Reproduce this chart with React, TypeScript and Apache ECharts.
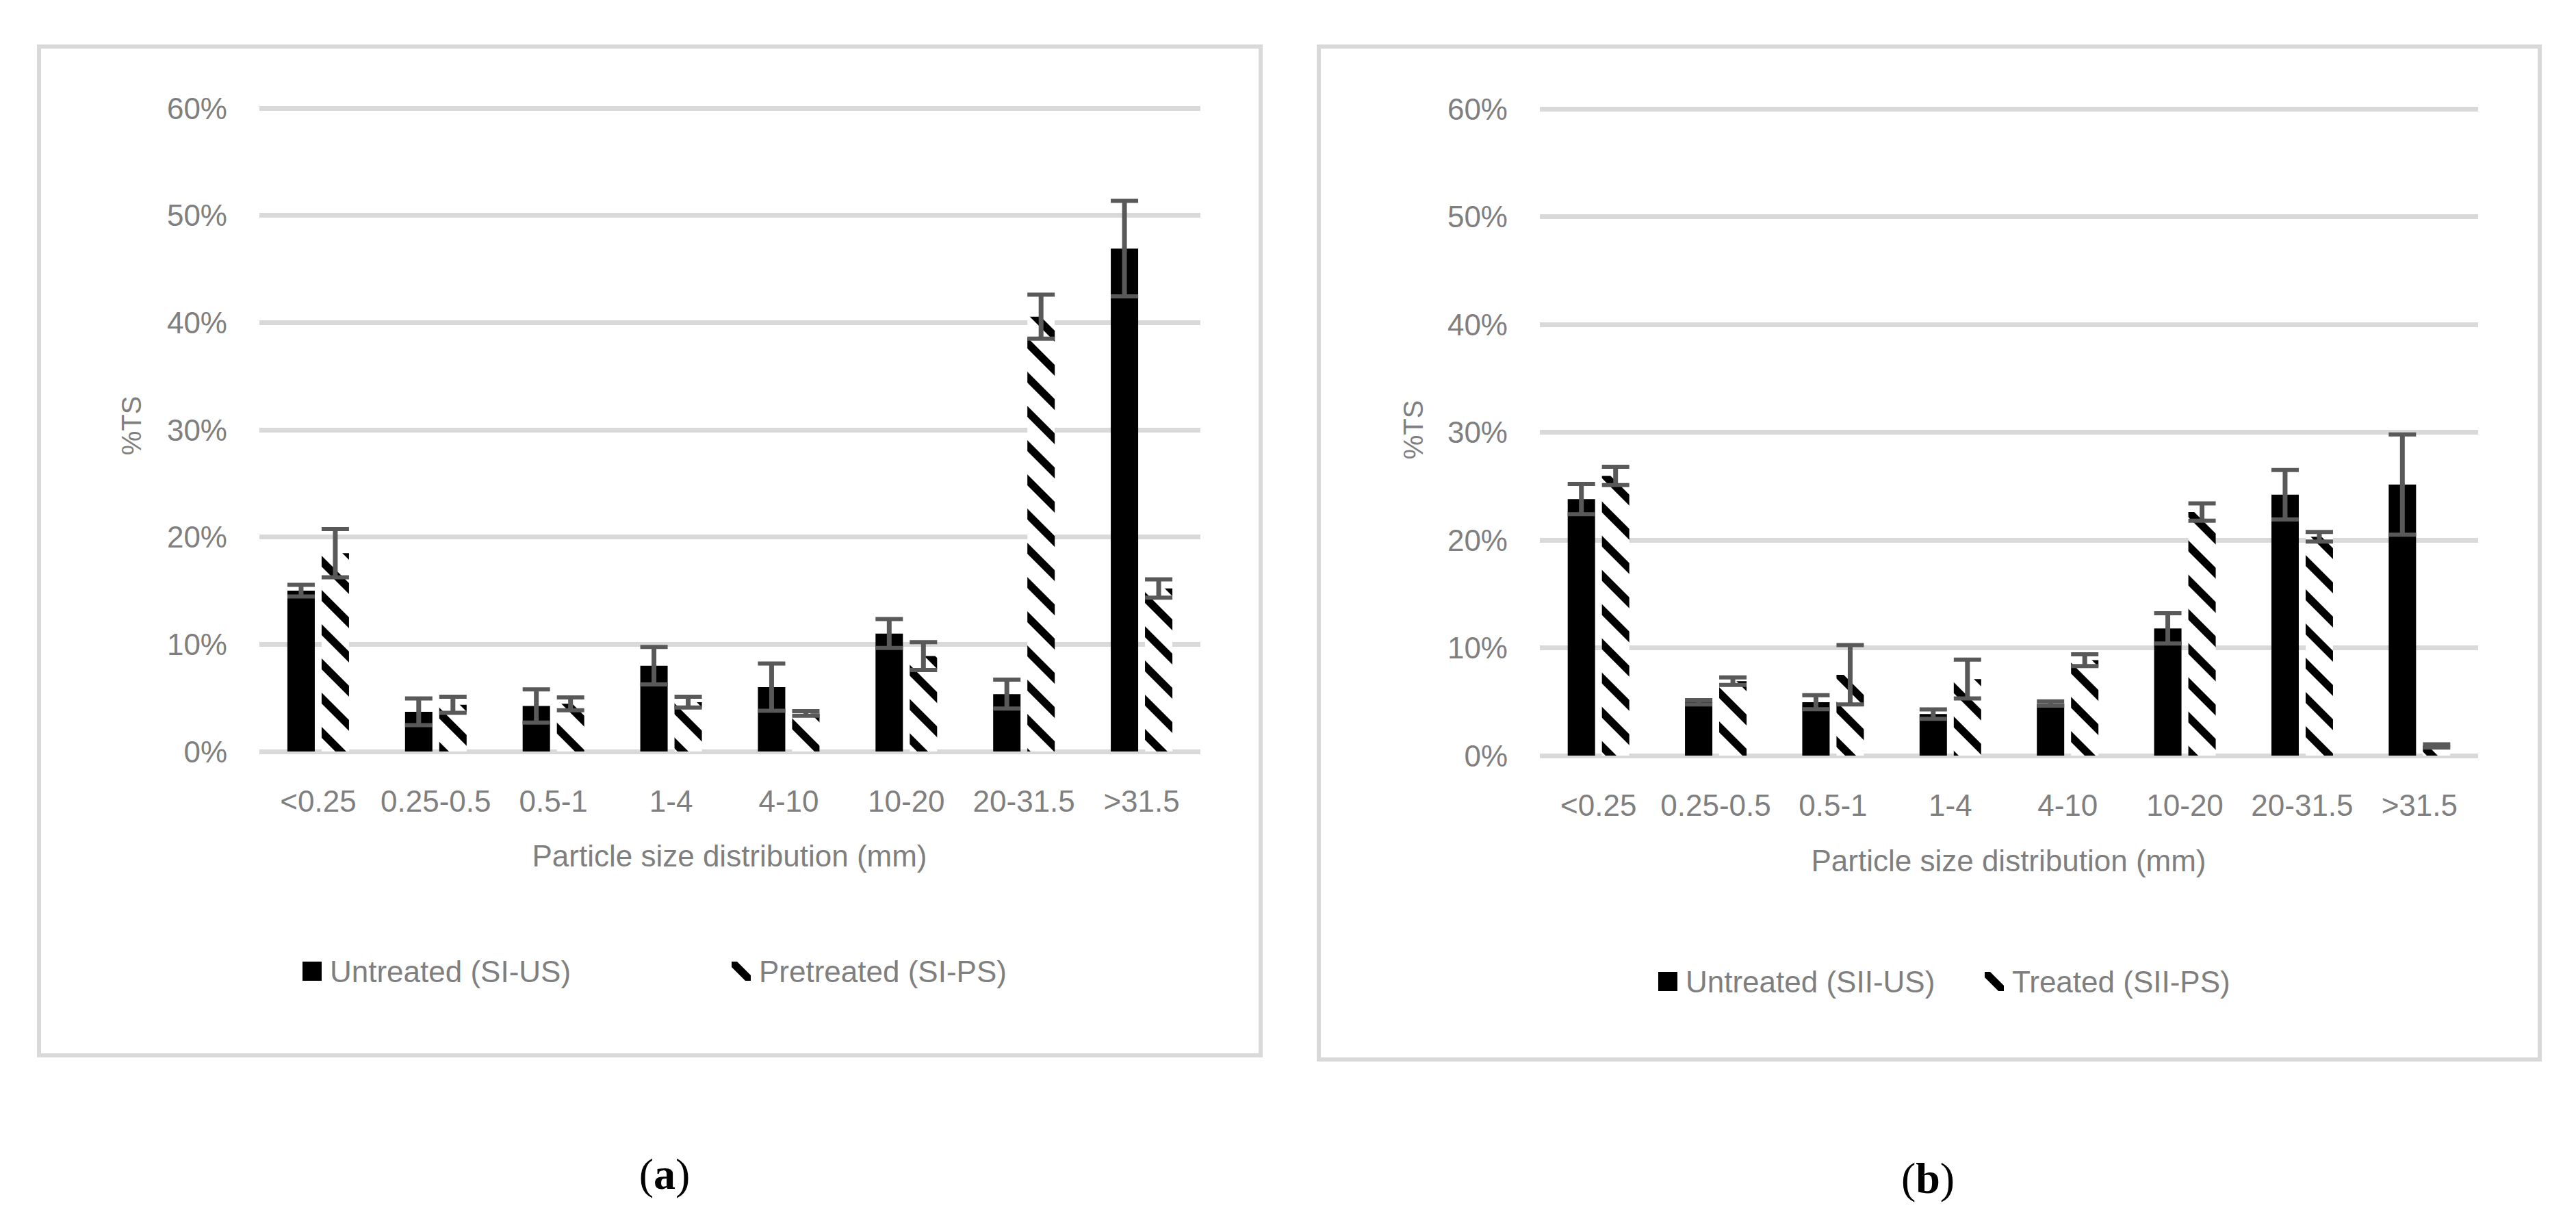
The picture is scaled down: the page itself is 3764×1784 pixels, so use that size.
import React, { useEffect, useRef } from 'react';
import * as echarts from 'echarts';

const categories = ['<0.25', '0.25-0.5', '0.5-1', '1-4', '4-10', '10-20', '20-31.5', '>31.5'];
const yMin = 0;
const yMax = 60;
const yStep = 10;

// Panel (a)
const aUntreated = [15.0, 3.7, 4.25, 8.0, 6.0, 11.0, 5.35, 46.9];
const aUntreatedErr = [0.55, 1.25, 1.55, 1.75, 2.2, 1.35, 1.35, 4.45];
const aPretreated = [18.5, 4.35, 4.45, 4.6, 3.55, 8.9, 40.55, 15.2];
const aPretreatedErr = [2.25, 0.75, 0.6, 0.5, 0.22, 1.3, 2.05, 0.85];

// Panel (b)
const bUntreated = [23.8, 4.95, 4.95, 3.85, 4.83, 11.8, 24.2, 25.15];
const bUntreatedErr = [1.4, 0.2, 0.65, 0.43, 0.2, 1.4, 2.3, 4.65];
const bTreated = [25.95, 6.9, 7.5, 7.1, 8.85, 22.6, 20.3, 0.9];
const bTreatedErr = [0.85, 0.35, 2.75, 1.8, 0.55, 0.8, 0.45, 0.15];

const legendA = ['Untreated (SI-US)', 'Pretreated (SI-PS)'];
const legendB = ['Untreated (SII-US)', 'Treated (SII-PS)'];
const xTitle = 'Particle size distribution (mm)';
const yTitle = '%TS';
const panelTags = ['a', 'b'];

const FONT = "'Liberation Sans', Arial, sans-serif";
const TEXT = '#7f7f7f';
const GRID = '#d9d9d9';
const ERR = '#595959';

function makePattern(): HTMLCanvasElement {
  const c = document.createElement('canvas');
  const s = 50;
  c.width = s;
  c.height = s;
  const ctx = c.getContext('2d')!;
  ctx.fillStyle = '#ffffff';
  ctx.fillRect(0, 0, s, s);
  ctx.fillStyle = '#000000';
  const t = 16;
  for (let k = -1; k <= 1; k++) {
    const o = k * s;
    ctx.beginPath();
    ctx.moveTo(0, o - t / 2);
    ctx.lineTo(s, o + s - t / 2);
    ctx.lineTo(s, o + s + t / 2);
    ctx.lineTo(0, o + t / 2);
    ctx.closePath();
    ctx.fill();
  }
  return c;
}

function errSeries(name: string, vals: number[], errs: number[], axis: number, offset: number) {
  return {
    name,
    type: 'custom',
    xAxisIndex: axis,
    yAxisIndex: axis,
    z: 10,
    silent: true,
    data: vals.map((v, i) => [i, v, errs[i]]),
    renderItem: (params: any, api: any) => {
      const i = api.value(0);
      const v = api.value(1);
      const e = api.value(2);
      const hi = api.coord([i, v + e]);
      const lo = api.coord([i, v - e]);
      const cx = hi[0] + offset;
      const half = 20;
      return {
        type: 'group',
        children: [
          { type: 'line', shape: { x1: cx, y1: hi[1], x2: cx, y2: lo[1] }, style: { stroke: ERR, lineWidth: 7 } },
          { type: 'line', shape: { x1: cx - half, y1: hi[1], x2: cx + half, y2: hi[1] }, style: { stroke: ERR, lineWidth: 6 } },
          { type: 'line', shape: { x1: cx - half, y1: lo[1], x2: cx + half, y2: lo[1] }, style: { stroke: ERR, lineWidth: 6 } },
        ],
      };
    },
  };
}

export default function App() {
  const ref = useRef<HTMLDivElement>(null);

  useEffect(() => {
    if (!ref.current) return;
    const chart = echarts.init(ref.current, null, { renderer: 'svg' });
    const canvas = makePattern();
    const pattern: any = { image: canvas, repeat: 'repeat', imageWidth: 50, imageHeight: 50 };

    const grids = [
      { left: 379, top: 158, width: 1375, height: 940 },
      { left: 2250, top: 159, width: 1371, height: 945 },
    ];

    const xAxis = grids.map((_, gi) => ({
      type: 'category',
      gridIndex: gi,
      data: categories,
      axisLine: { show: false },
      axisTick: { show: false },
      axisLabel: { color: TEXT, fontSize: 44, fontFamily: FONT, margin: 50, interval: 0 },
    }));

    const yAxis = grids.map((_, gi) => ({
      type: 'value',
      gridIndex: gi,
      min: yMin,
      max: yMax,
      interval: yStep,
      axisLine: { show: false },
      axisTick: { show: false },
      axisLabel: { color: TEXT, fontSize: 44, fontFamily: FONT, margin: 47, formatter: '{value}%' },
      splitLine: { lineStyle: { color: GRID, width: 7 } },
    }));

    const barBase = { type: 'bar', barWidth: 40, barGap: '25%' };

    const series: any[] = [
      { ...barBase, name: legendA[0], xAxisIndex: 0, yAxisIndex: 0, data: aUntreated, itemStyle: { color: '#000000' } },
      { ...barBase, name: legendA[1], xAxisIndex: 0, yAxisIndex: 0, data: aPretreated, itemStyle: { color: pattern } },
      { ...barBase, name: legendB[0], xAxisIndex: 1, yAxisIndex: 1, data: bUntreated, itemStyle: { color: '#000000' } },
      { ...barBase, name: legendB[1], xAxisIndex: 1, yAxisIndex: 1, data: bTreated, itemStyle: { color: pattern } },
      errSeries('errA1', aUntreated, aUntreatedErr, 0, -25),
      errSeries('errA2', aPretreated, aPretreatedErr, 0, 25),
      errSeries('errB1', bUntreated, bUntreatedErr, 1, -25),
      errSeries('errB2', bTreated, bTreatedErr, 1, 25),
    ];

    const legendBase = {
      orient: 'horizontal',
      itemWidth: 28,
      itemHeight: 28,
      icon: 'rect',
      selectedMode: false,
      textStyle: { color: TEXT, fontSize: 44, fontFamily: FONT, padding: [0, 0, 0, 7] },
      padding: 0,
    };
    const legend = [
      { ...legendBase, data: [legendA[0]], left: 442, top: 1397 },
      { ...legendBase, data: [legendA[1]], left: 1069, top: 1397 },
      { ...legendBase, data: [legendB[0]], left: 2423, top: 1412 },
      { ...legendBase, data: [legendB[1]], left: 2900, top: 1412 },
    ];

    const tagText = (tag: string, x: number, y: number) => ({
      type: 'text',
      x,
      y,
      style: {
        text: `{p|(}{b|${tag}}{p|)}`,
        align: 'center',
        verticalAlign: 'middle',
        rich: {
          p: { fontFamily: "'Liberation Serif', 'DejaVu Serif', serif", fontSize: 64, fill: '#000' },
          b: { fontFamily: "'Liberation Serif', 'DejaVu Serif', serif", fontSize: 64, fontWeight: 'bold', fill: '#000' },
        },
      },
    });

    const graphic: any[] = [
      { type: 'rect', shape: { x: 57, y: 68, width: 1785, height: 1474 }, style: { fill: 'none', stroke: GRID, lineWidth: 6 }, z: -1 },
      { type: 'rect', shape: { x: 1927, y: 68, width: 1784, height: 1480 }, style: { fill: 'none', stroke: GRID, lineWidth: 6 }, z: -1 },
      { type: 'text', x: 192, y: 622, rotation: Math.PI / 2, style: { text: yTitle, fill: TEXT, fontSize: 40, fontFamily: FONT, align: 'center', verticalAlign: 'middle' } },
      { type: 'text', x: 2065, y: 628, rotation: Math.PI / 2, style: { text: yTitle, fill: TEXT, fontSize: 40, fontFamily: FONT, align: 'center', verticalAlign: 'middle' } },
      { type: 'text', x: 1066, y: 1250, style: { text: xTitle, fill: TEXT, fontSize: 44, fontFamily: FONT, align: 'center', verticalAlign: 'middle' } },
      { type: 'text', x: 2935, y: 1257, style: { text: xTitle, fill: TEXT, fontSize: 44, fontFamily: FONT, align: 'center', verticalAlign: 'middle' } },
      tagText(panelTags[0], 971, 1715),
      tagText(panelTags[1], 2817, 1721),
    ];

    chart.setOption({
      animation: false,
      backgroundColor: '#ffffff',
      grid: grids,
      xAxis,
      yAxis,
      legend,
      series,
      graphic,
    });

    return () => chart.dispose();
  }, []);

  return <div ref={ref} style={{ position: 'fixed', left: 0, top: 0, width: 3764, height: 1784 }} />;
}
